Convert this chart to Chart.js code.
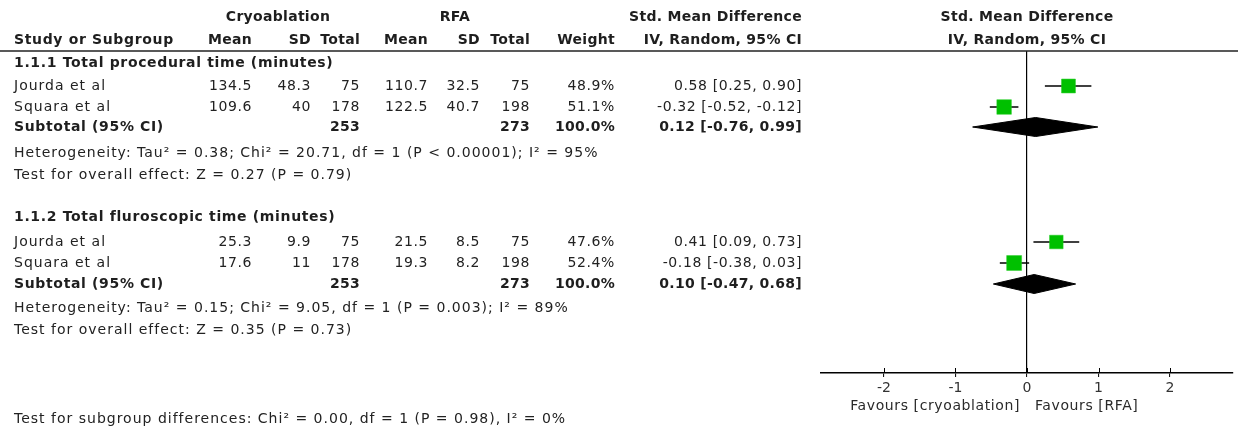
<!DOCTYPE html>
<html><head><meta charset="utf-8">
<script src="https://cdn.jsdelivr.net/npm/chart.js@4.4.0/dist/chart.umd.min.js"></script>
<style>html,body{margin:0;padding:0;background:#fff;}canvas{display:block;}</style>
</head><body>
<canvas id="c" width="1238" height="428" style="width:1238px;height:428px"></canvas>
<script>
// ---------- DATA ----------
const subgroupTitles = ["1.1.1 Total procedural time (minutes)", "1.1.2 Total fluroscopic time (minutes)"];
const studies   = ["Jourda et al", "Squara et al", "Jourda et al", "Squara et al"];
const studyGroup = [0, 0, 1, 1];
const cryoMean  = [134.5, 109.6, 25.3, 17.6];
const cryoSD    = [48.3, 40, 9.9, 11];
const cryoN     = [75, 178, 75, 178];
const rfaMean   = [110.7, 122.5, 21.5, 19.3];
const rfaSD     = [32.5, 40.7, 8.5, 8.2];
const rfaN      = [75, 198, 75, 198];
const weights   = [48.9, 51.1, 47.6, 52.4];
const smd       = [0.58, -0.32, 0.41, -0.18];
const ciLow     = [0.25, -0.52, 0.09, -0.38];
const ciHigh    = [0.90, -0.12, 0.73, 0.03];
const subCryoN  = [253, 253];
const subRfaN   = [273, 273];
const subWeight = [100.0, 100.0];
const subSmd    = [0.12, 0.10];
const subLow    = [-0.76, -0.47];
const subHigh   = [0.99, 0.68];
const heterogeneity = [
  "Heterogeneity: Tau\u00B2 = 0.38; Chi\u00B2 = 20.71, df = 1 (P < 0.00001); I\u00B2 = 95%",
  "Heterogeneity: Tau\u00B2 = 0.15; Chi\u00B2 = 9.05, df = 1 (P = 0.003); I\u00B2 = 89%"
];
const overallEffect = [
  "Test for overall effect: Z = 0.27 (P = 0.79)",
  "Test for overall effect: Z = 0.35 (P = 0.73)"
];
const subgroupTest = "Test for subgroup differences: Chi\u00B2 = 0.00, df = 1 (P = 0.98), I\u00B2 = 0%";
const xTicks = [-2, -1, 0, 1, 2];
const xRange = [-2.88, 2.88];
const favourLabels = ["Favours [cryoablation]", "Favours [RFA]"];

// ---------- LAYOUT ----------
const L = {
  W: 1238, H: 428,
  plotLeft: 821, plotRight: 1233, plotTop: 51, plotBottom: 373,
  head1: 17, head2: 40, rule: 51,
  secY: [63, 217],
  studyY: [86, 107, 242, 263],
  subY: [127, 284],
  hetY: [153, 308],
  testY: [175, 330],
  subgroupTestY: 419,
  textX: 14,
  cols: [252, 311, 360, 428, 480, 530, 615, 802],
  cryoCenter: 278, rfaCenter: 455, forestCenter: 1027,
  diamondHalf: 9.5,
  fontSize: 14, tickFont: 14,
  lsText: 1.0, lsNum: 0.6, lsBoldText: 0.65, lsBoldNum: 0.3,
  green: "#00c000", ink: "#1e1e1e"
};

const fmtCI = (e, l, h) => e.toFixed(2) + " [" + l.toFixed(2) + ", " + h.toFixed(2) + "]";

function txt(ctx, s, x, y, align, bold, size, color, ls) {
  ctx.font = (bold ? "bold " : "") + size + 'px "DejaVu Sans"';
  ctx.textAlign = align;
  ctx.textBaseline = "middle";
  ctx.fillStyle = color || L.ink;
  try { ctx.letterSpacing = ls + "px"; } catch (e) {}
  ctx.fillText(s, x, y);
  try { ctx.letterSpacing = "0px"; } catch (e) {}
}

const tablePlugin = {
  id: "forestTable",
  afterDraw(chart) {
    const ctx = chart.ctx;
    const fs = L.fontSize;
    const c = L.cols;
    ctx.save();
    // headers
    txt(ctx, "Cryoablation", L.cryoCenter, L.head1, "center", true, fs, null, L.lsBoldNum);
    txt(ctx, "RFA", L.rfaCenter, L.head1, "center", true, fs, null, L.lsBoldNum);
    txt(ctx, "Std. Mean Difference", c[7], L.head1, "right", true, fs, null, L.lsBoldNum);
    txt(ctx, "Std. Mean Difference", L.forestCenter, L.head1, "center", true, fs, null, L.lsBoldNum);
    txt(ctx, "Study or Subgroup", L.textX, L.head2, "left", true, fs, null, L.lsBoldText);
    const h2 = ["Mean", "SD", "Total", "Mean", "SD", "Total", "Weight", "IV, Random, 95% CI"];
    h2.forEach((h, i) => txt(ctx, h, c[i], L.head2, "right", true, fs, null, L.lsBoldNum));
    txt(ctx, "IV, Random, 95% CI", L.forestCenter, L.head2, "center", true, fs, null, L.lsBoldNum);
    // rule
    ctx.strokeStyle = "#222";
    ctx.lineWidth = 1.6;
    ctx.beginPath(); ctx.moveTo(0, L.rule); ctx.lineTo(L.W, L.rule); ctx.stroke();

    // subgroups
    subgroupTitles.forEach((t, g) => {
      txt(ctx, t, L.textX, L.secY[g], "left", true, fs, null, L.lsBoldText);
      txt(ctx, "Subtotal (95% CI)", L.textX, L.subY[g], "left", true, fs, null, L.lsBoldText);
      txt(ctx, String(subCryoN[g]), c[2], L.subY[g], "right", true, fs, null, L.lsBoldNum);
      txt(ctx, String(subRfaN[g]), c[5], L.subY[g], "right", true, fs, null, L.lsBoldNum);
      txt(ctx, subWeight[g].toFixed(1) + "%", c[6], L.subY[g], "right", true, fs, null, L.lsBoldNum);
      txt(ctx, fmtCI(subSmd[g], subLow[g], subHigh[g]), c[7], L.subY[g], "right", true, fs, null, L.lsBoldNum);
      txt(ctx, heterogeneity[g], L.textX, L.hetY[g], "left", false, fs, "#222", L.lsText);
      txt(ctx, overallEffect[g], L.textX, L.testY[g], "left", false, fs, "#222", L.lsText);
    });
    studies.forEach((s, i) => {
      const y = L.studyY[i];
      txt(ctx, s, L.textX, y, "left", false, fs, "#222", L.lsText);
      const vals = [String(cryoMean[i]), String(cryoSD[i]), String(cryoN[i]),
                    String(rfaMean[i]), String(rfaSD[i]), String(rfaN[i]),
                    weights[i].toFixed(1) + "%", fmtCI(smd[i], ciLow[i], ciHigh[i])];
      vals.forEach((v, k) => txt(ctx, v, c[k], y, "right", false, fs, "#222", L.lsNum));
    });
    txt(ctx, subgroupTest, L.textX, L.subgroupTestY, "left", false, fs, "#222", L.lsText);

    // upward part of tick marks and favour labels
    const xs = chart.scales.x;
    const yb = chart.chartArea.bottom;
    ctx.strokeStyle = "#000";
    ctx.lineWidth = 1;
    xTicks.forEach(v => {
      const px = Math.round(xs.getPixelForValue(v)) + 0.5;
      ctx.beginPath(); ctx.moveTo(px, yb - 5); ctx.lineTo(px, yb); ctx.stroke();
    });
    const x0 = xs.getPixelForValue(0);
    txt(ctx, favourLabels[0], x0 - 7, 406, "right", false, fs, "#2a2a2a", 0.6);
    txt(ctx, favourLabels[1], x0 + 8, 406, "left", false, fs, "#2a2a2a", 0.6);
    ctx.restore();
  }
};

// ---------- DATASETS ----------
const squareSide = w => w * 0.285;
const squares = {
  label: "Studies",
  data: smd.map((v, i) => ({ x: v, y: L.studyY[i] })),
  pointStyle: "rect",
  pointRadius: weights.map(w => squareSide(w) / Math.SQRT2),
  pointHoverRadius: weights.map(w => squareSide(w) / Math.SQRT2),
  backgroundColor: L.green,
  borderColor: "#22cc22",
  borderWidth: 0.5,
  showLine: false
};
const ciLines = smd.map((v, i) => ({
  label: "CI " + i,
  data: [{ x: ciLow[i], y: L.studyY[i] }, { x: ciHigh[i], y: L.studyY[i] }],
  showLine: true, borderColor: "#000", borderWidth: 1.5, pointRadius: 0, fill: false
}));
const diamonds = subSmd.map((v, g) => {
  const y = L.subY[g], h = L.diamondHalf;
  return {
    label: "Subtotal " + g,
    data: [{ x: subLow[g], y: y }, { x: v, y: y - h }, { x: subHigh[g], y: y }, { x: v, y: y + h }, { x: subLow[g], y: y }],
    showLine: true, borderColor: "#000", borderWidth: 1, backgroundColor: "#000",
    fill: "shape", pointRadius: 0, tension: 0
  };
});

new Chart(document.getElementById("c"), {
  type: "scatter",
  data: { datasets: [squares, ...ciLines, ...diamonds] },
  options: {
    responsive: false,
    maintainAspectRatio: false,
    animation: false,
    events: [],
    layout: {
      autoPadding: false,
      padding: { left: L.plotLeft, right: L.W - L.plotRight, top: L.plotTop, bottom: 0 }
    },
    plugins: { legend: { display: false }, tooltip: { enabled: false } },
    scales: {
      x: {
        type: "linear",
        min: xRange[0], max: xRange[1],
        afterBuildTicks: s => { s.ticks = xTicks.map(v => ({ value: v })); },
        afterFit: s => { s.height = L.H - L.plotBottom; },
        grid: {
          color: c => (c.tick && c.tick.value === 0 ? "#000" : "rgba(0,0,0,0)"),
          lineWidth: 1.2,
          drawTicks: true, tickLength: 4, tickColor: "#000", tickWidth: 1
        },
        border: { display: true, color: "#000", width: 1.5 },
        ticks: {
          padding: 3,
          color: "#333",
          font: { family: "DejaVu Sans", size: L.tickFont },
          callback: v => String(v),
          maxRotation: 0, autoSkip: false
        }
      },
      y: {
        type: "linear", display: false, reverse: true,
        min: L.plotTop, max: L.plotBottom
      }
    }
  },
  plugins: [tablePlugin]
});
</script>
</body></html>
